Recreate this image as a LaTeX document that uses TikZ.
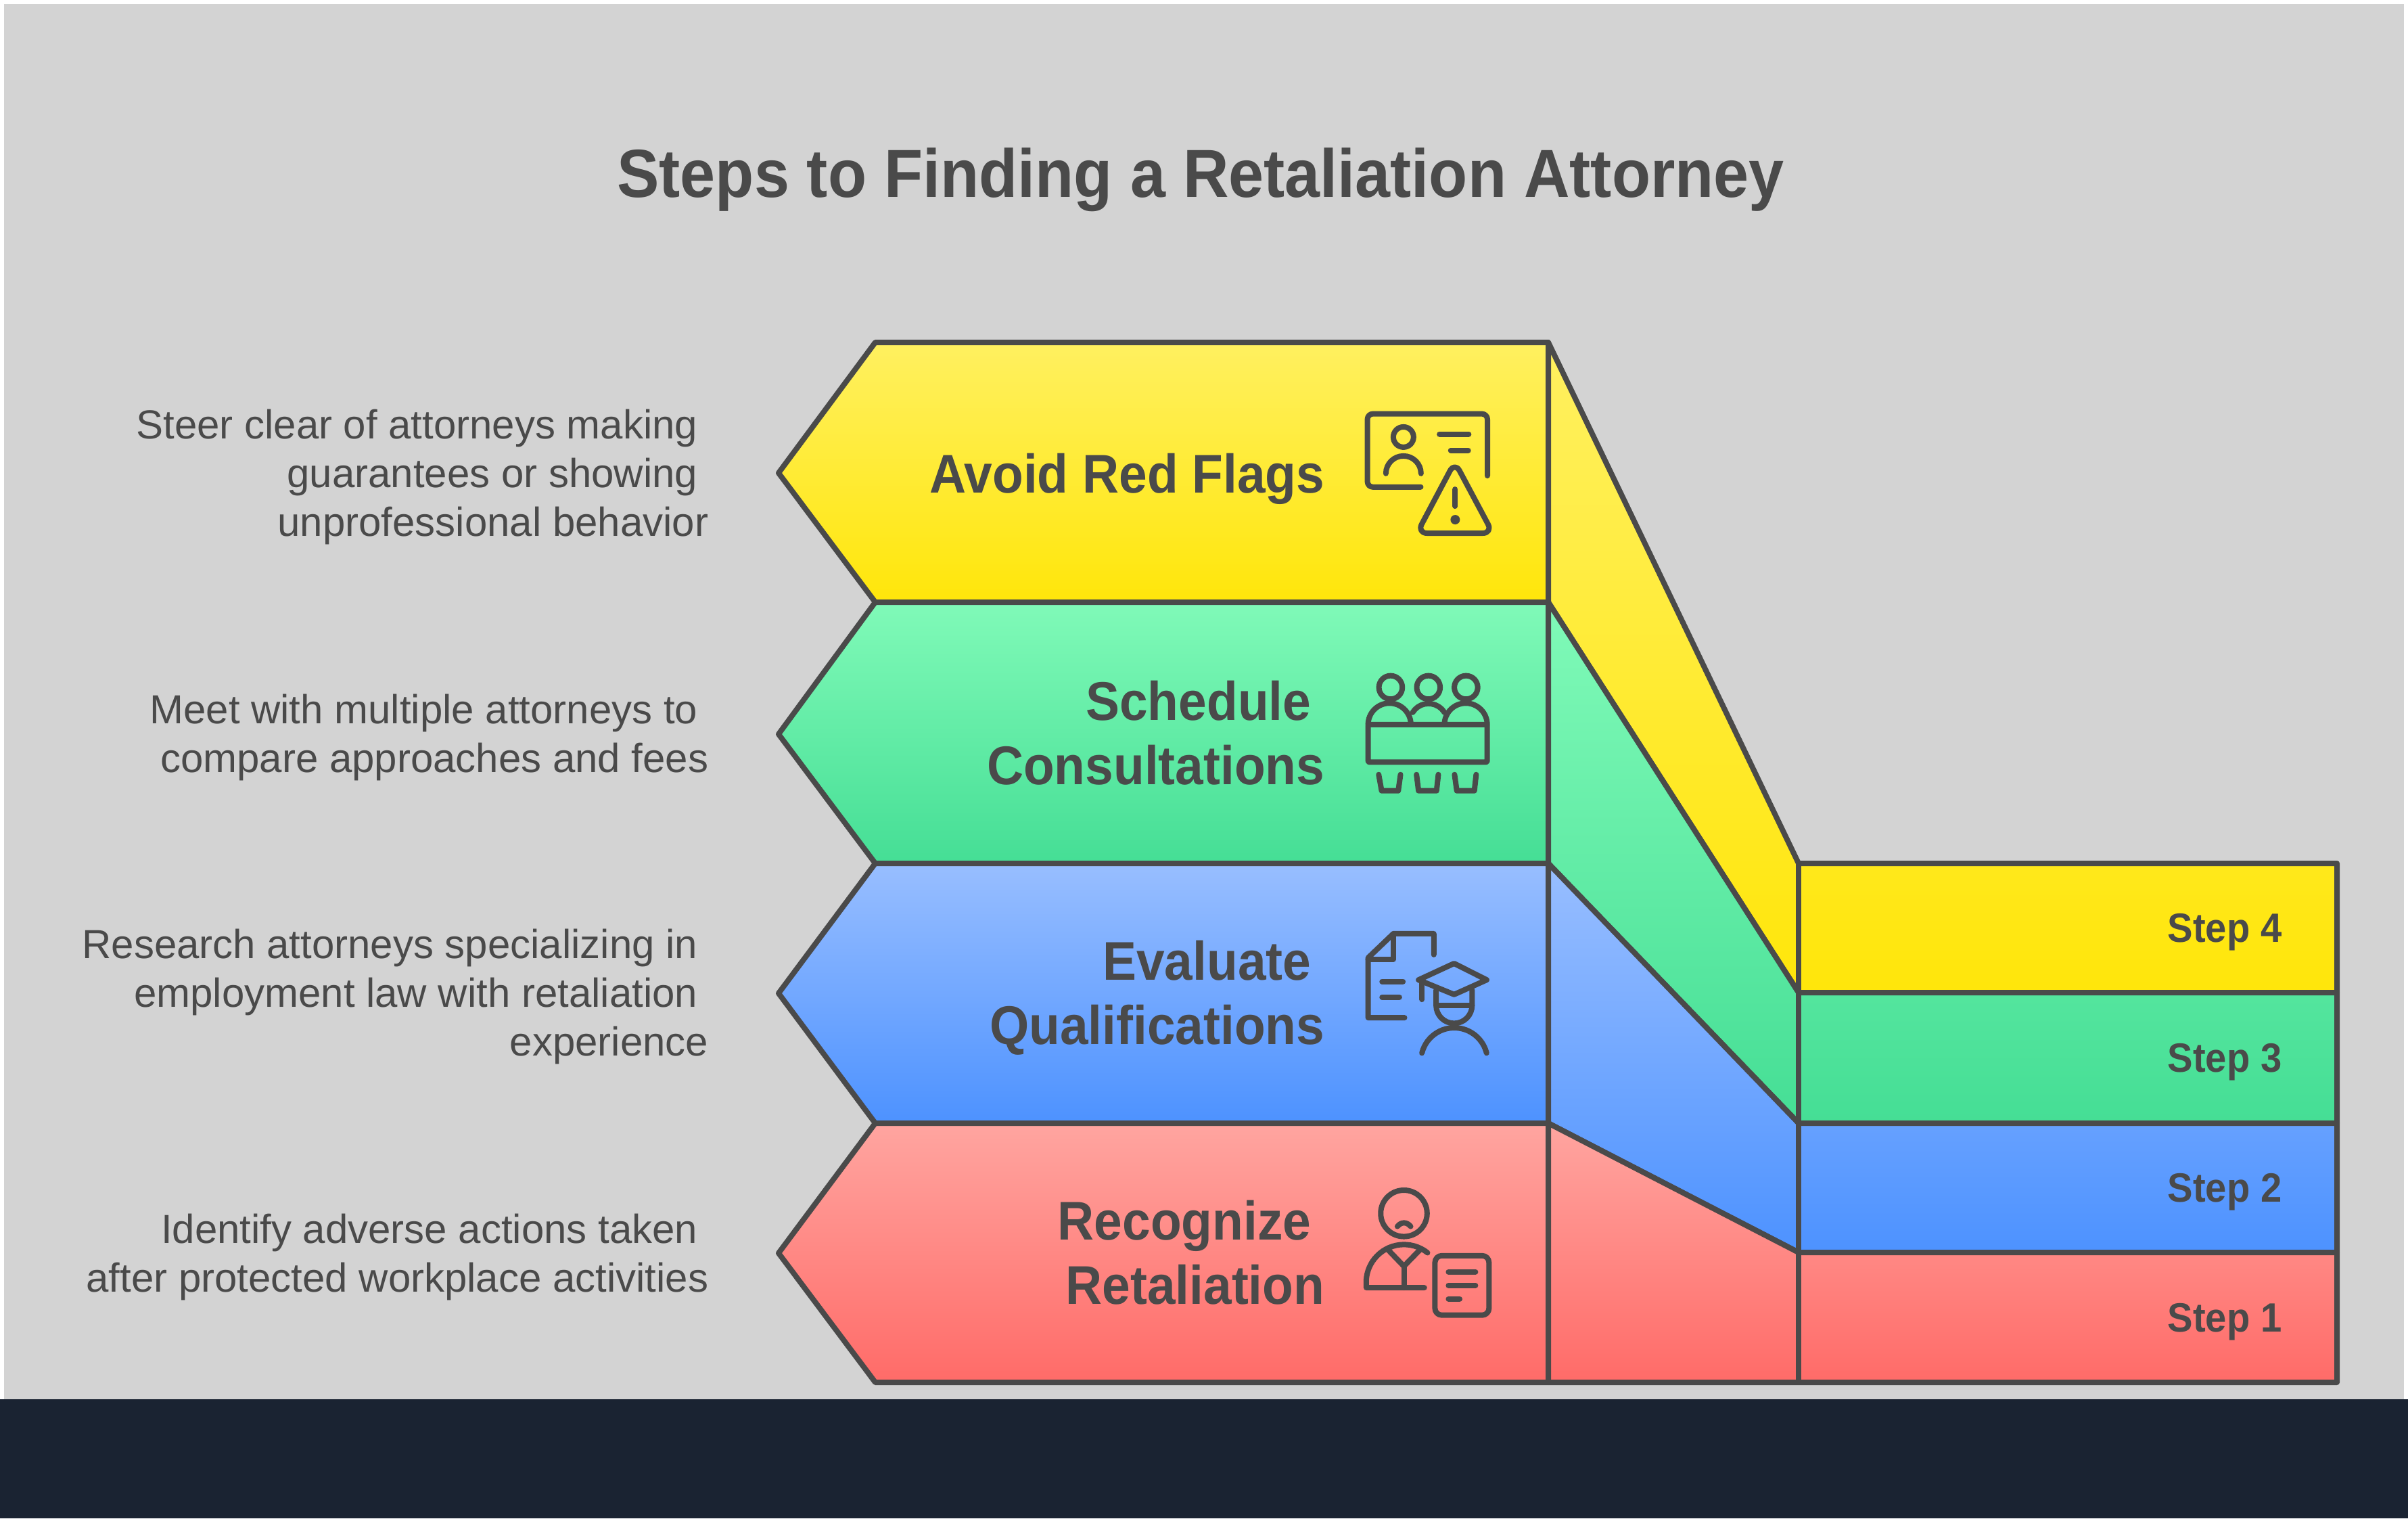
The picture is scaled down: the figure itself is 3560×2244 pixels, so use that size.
\documentclass[tikz,border=0pt]{standalone}
\usepackage{fontspec}
\setmainfont{Liberation Sans}
\newfontfamily\boldnarrow[FakeStretch=0.93]{Liberation Sans Bold}

\definecolor{inkgray}{HTML}{4A4A4A}
\definecolor{pagegray}{HTML}{D3D3D3}
\definecolor{bandnavy}{HTML}{1A2332}
\definecolor{RYtop}{HTML}{FFF060}
\definecolor{RYend}{HTML}{FFE60A}
\definecolor{GRtop}{HTML}{80FAB8}
\definecolor{GRend}{HTML}{45DE95}
\definecolor{BLtop}{HTML}{98BEFF}
\definecolor{BLend}{HTML}{4D92FF}
\definecolor{RDtop}{HTML}{FFA5A0}
\definecolor{RDend}{HTML}{FF6B68}

\tikzset{
	outline/.style={draw=inkgray, line width=0.08cm, line join=round},
	titletext/.style={font=\boldnarrow\fontsize{28.6}{34}\selectfont, text=inkgray},
	bandtext/.style={font=\boldnarrow\fontsize{22.9}{27}\selectfont, text=inkgray, anchor=east, align=right, inner sep=0pt},
	steptext/.style={font=\boldnarrow\fontsize{17.2}{20}\selectfont, text=inkgray, anchor=east, inner sep=0pt},
	sidetext/.style={font=\fontsize{17.05}{20.6}\selectfont, text=inkgray, anchor=east, align=right, inner sep=0pt},
	iconbox/.style={shift={#1}, x=0.003333cm, y=-0.003333cm, draw=inkgray, line width=0.08cm, line cap=round, line join=round},
}
\newcommand{\tailgap}{\kern 0.16cm}
\newcommand{\bandgap}{\kern 0.2cm}

\begin{document}
\begin{tikzpicture}[x=0.01cm, y=-0.01cm]
		\useasboundingbox (0, 0) rectangle (3560, 2244);
		\fill[white] (0, 0) rectangle (3560, 2244);
		\fill[pagegray] (6, 6) rectangle (3554, 2068);
		\fill[bandnavy] (0, 2068) rectangle (3560, 2244);

		\node[titletext] (title) at (1775, 266) {Steps to Finding a Retaliation Attorney};

		%% arrows on the left
		\draw[outline, top color=RYtop, bottom color=RYend] (1294, 506) -- (2289, 506) -- (2289, 890) -- (1294, 890) -- (1151, 699) -- cycle;
		\draw[outline, top color=GRtop, bottom color=GRend] (1294, 890) -- (2289, 890) -- (2289, 1276) -- (1294, 1276) -- (1151, 1085) -- cycle;
		\draw[outline, top color=BLtop, bottom color=BLend] (1294, 1276) -- (2289, 1276) -- (2289, 1660) -- (1294, 1660) -- (1151, 1468) -- cycle;
		\draw[outline, top color=RDtop, bottom color=RDend] (1294, 1660) -- (2289, 1660) -- (2289, 2043) -- (1294, 2043) -- (1151, 1852) -- cycle;

		%% slopes and step bars
		\draw[outline, top color=RYtop, bottom color=RYend] (2289, 506) -- (2659, 1276) -- (3455, 1276) -- (3455, 1467) -- (2659, 1467) -- (2289, 890) -- cycle;
		\draw[outline, top color=GRtop, bottom color=GRend] (2289, 890) -- (2659, 1467) -- (3455, 1467) -- (3455, 1660) -- (2659, 1660) -- (2289, 1276) -- cycle;
		\draw[outline, top color=BLtop, bottom color=BLend] (2289, 1276) -- (2659, 1660) -- (3455, 1660) -- (3455, 1851) -- (2659, 1851) -- (2289, 1660) -- cycle;
		\draw[outline, top color=RDtop, bottom color=RDend] (2289, 1660) -- (2659, 1851) -- (3455, 1851) -- (3455, 2043) -- (2289, 2043) -- cycle;
		\draw[outline] (2659, 1276) -- (2659, 2043);

		\node[bandtext] (flags) at (1959, 708) {Avoid Red Flags};
		\node[bandtext] (consult) at (1959, 1083) {Schedule\bandgap\\Consultations};
		\node[bandtext] (qualify) at (1959, 1475) {Evaluate\bandgap\\Qualifications};
		\node[bandtext] (retal) at (1959, 1851) {Recognize\bandgap\\Retaliation};

		\node[steptext] (step4) at (3374, 1378) {Step 4};
		\node[steptext] (step3) at (3374, 1570) {Step 3};
		\node[steptext] (step2) at (3374, 1762) {Step 2};
		\node[steptext] (step1) at (3374, 1954) {Step 1};

		\node[sidetext] (sideflags) at (1048, 705) {Steer clear of attorneys making\tailgap\\guarantees or showing\tailgap\\unprofessional behavior};
		\node[sidetext] (sideconsult) at (1048, 1090) {Meet with multiple attorneys to\tailgap\\compare approaches and fees};
		\node[sidetext] (sidequalify) at (1048, 1473) {Research attorneys specializing in\tailgap\\employment law with retaliation\tailgap\\experience};
		\node[sidetext] (sideretal) at (1048, 1858) {Identify adverse actions taken\tailgap\\after protected workplace activities};

		%% icon: id card with warning
		\begin{scope}[iconbox={(1980, 580)}]
			\draw[rounded corners=0.08cm] (362, 420) -- (125, 420) -- (125, 95) -- (658, 95) -- (658, 370);
			\draw (285, 198) circle (45);
			\draw (207, 360) arc (180:360:78);
			\draw (445, 185) -- (575, 185);
			\draw (495, 257) -- (573, 257);
			\draw[rounded corners=0.15cm] (513, 308) -- (682, 625) -- (345, 625) -- cycle;
			\draw (515, 430) -- (515, 505);
			\fill[inkgray] (515, 565) circle (21);
		\end{scope}

		%% icon: people behind a table
		\begin{scope}[iconbox={(1980, 970)}]
			\draw (228, 138) circle (52);
			\draw (396, 138) circle (52);
			\draw (563, 138) circle (52);
			\draw[rounded corners=0.02cm] (128, 303) rectangle (657, 470);
			\draw (128, 303) arc (180:360:95);
			\draw (467, 303) arc (180:360:95);
			\draw (326, 249) arc (212:328:83);
			\draw (175, 525) -- (188, 597) -- (262, 597) -- (272, 525);
			\draw (343, 525) -- (352, 597) -- (432, 597) -- (440, 525);
			\draw (512, 525) -- (522, 597) -- (600, 597) -- (608, 525);
		\end{scope}

		%% icon: document and graduate
		\begin{scope}[iconbox={(1980, 1350)}]
			\draw (420, 183) -- (420, 90) -- (240, 90) -- (128, 197) -- (128, 463) -- (290, 463);
			\draw (240, 90) -- (240, 203) -- (128, 203);
			\draw (190, 302) -- (283, 302);
			\draw (190, 372) -- (267, 372);
			\draw (510, 222) -- (655, 295) -- (510, 360) -- (352, 295) -- cycle;
			\draw (368, 300) -- (368, 382);
			\draw (430, 340) -- (430, 408) arc (180:0:80) -- (590, 340);
			\draw (430, 408) -- (590, 408);
			\draw (367, 620) arc (194:346:148);
		\end{scope}

		%% icon: upset person with a note
		\begin{scope}[iconbox={(1980, 1740)}]
			\draw (287, 160) circle (103);
			\draw (258, 218) .. controls (275, 197) and (300, 197) .. (317, 218);
			\draw (392, 335) arc (308.5:180:168) -- (120, 490) -- (378, 490);
			\draw (215, 320) -- (287, 395) -- (360, 320);
			\draw (287, 395) -- (287, 490);
			\draw[rounded corners=0.1cm] (425, 348) rectangle (665, 612);
			\draw (485, 420) -- (605, 420);
			\draw (485, 480) -- (605, 480);
			\draw (485, 540) -- (535, 540);
		\end{scope}
	\end{tikzpicture}
\end{document}
